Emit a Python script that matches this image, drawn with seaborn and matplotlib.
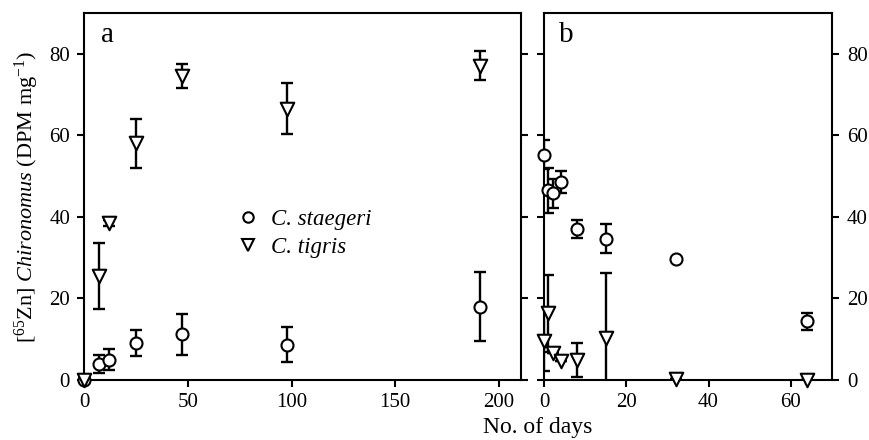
import numpy as np
import pandas as pd
import matplotlib
matplotlib.use('Agg')
import matplotlib.pyplot as plt
import seaborn as sns
from matplotlib.lines import Line2D

# ---- Data ----
species = ["C. staegeri", "C. tigris"]

# Panel a: uptake
a_days_s = [0, 7, 12, 25, 47, 98, 191]
a_mean_s = [0.0, 4.0, 5.0, 9.0, 11.2, 8.6, 18.0]
a_err_s = [0.0, 2.2, 2.5, 3.2, 5.0, 4.3, 8.4]
a_days_t = [0, 7, 12, 25, 47, 98, 191]
a_mean_t = [0.0, 25.5, 38.5, 58.0, 74.5, 66.5, 77.0]
a_err_t = [0.0, 8.0, 0.8, 6.0, 3.0, 6.3, 3.5]

# Panel b: depuration
b_days_s = [0, 1, 2, 4, 8, 15, 32, 64]
b_mean_s = [55.2, 46.5, 45.7, 48.5, 37.0, 34.6, 29.7, 14.4]
b_err_s = [3.5, 5.5, 3.5, 2.6, 2.1, 3.6, 0.0, 2.1]
b_days_t = [0, 1, 2, 4, 8, 15, 32, 64]
b_mean_t = [9.5, 16.3, 6.5, 4.7, 4.9, 10.2, 0.3, 0.0]
b_err_t = [7.4, 9.4, 0.0, 0.0, 4.2, 16.0, 0.0, 0.0]

a_xticks = [0, 50, 100, 150, 200]
b_xticks = [0, 20, 40, 60]
yticks = [0, 20, 40, 60, 80]


def frame(days_s, mean_s, err_s, days_t, mean_t, err_t):
    d1 = pd.DataFrame({"day": days_s, "val": mean_s, "err": err_s, "sp": species[0]})
    d2 = pd.DataFrame({"day": days_t, "val": mean_t, "err": err_t, "sp": species[1]})
    return pd.concat([d1, d2], ignore_index=True)


df_a = frame(a_days_s, a_mean_s, a_err_s, a_days_t, a_mean_t, a_err_t)
df_b = frame(b_days_s, b_mean_s, b_err_s, b_days_t, b_mean_t, b_err_t)

sns.set_style("ticks")
plt.rcParams['font.family'] = ['Liberation Serif', 'DejaVu Serif']
plt.rcParams['mathtext.fontset'] = 'custom'
plt.rcParams['mathtext.rm'] = 'Liberation Serif'
plt.rcParams['mathtext.it'] = 'Liberation Serif:italic'
plt.rcParams['axes.linewidth'] = 1.5
for k in ['text.color', 'axes.labelcolor', 'xtick.color', 'ytick.color', 'axes.edgecolor']:
    plt.rcParams[k] = 'black'

fig = plt.figure(figsize=(8.7, 4.4), dpi=100)
ax_a = fig.add_axes([84 / 870, 60 / 440, 437 / 870, 367.3 / 440])
ax_b = fig.add_axes([544.3 / 870, 60 / 440, 287.4 / 870, 367.3 / 440])

markers = {species[0]: "o", species[1]: "v"}
sizes = {species[0]: 75, species[1]: 95}


def draw(ax, df):
    for sp in species:
        sub = df[df.sp == sp]
        ax.errorbar(sub.day, sub.val, yerr=sub.err, fmt='none', ecolor='black',
                    elinewidth=1.7, capsize=4.5, capthick=1.7, zorder=2)
    for sp in species:
        sub = df[df.sp == sp]
        sns.scatterplot(data=sub, x="day", y="val", ax=ax, marker=markers[sp],
                        s=sizes[sp], facecolor='white', edgecolor='black',
                        linewidth=1.5, zorder=3, clip_on=False, legend=False)
    ax.set_ylim(0, 90)
    ax.set_yticks(yticks)
    ax.set_xlabel("")
    ax.set_ylabel("")
    for s in ax.spines.values():
        s.set_visible(True)
        s.set_linewidth(1.5)
        s.set_color('black')
    ax.tick_params(axis='both', direction='out', length=5, width=1.5,
                   labelsize=15, colors='black')


draw(ax_a, df_a)
draw(ax_b, df_b)

ax_a.set_xlim(0, 210.6)
ax_a.set_xticks(a_xticks)
ax_a.tick_params(axis='y', which='both', left=True, right=True, labelleft=True,
                 labelright=False, pad=5)
ax_a.tick_params(axis='x', pad=4)

ax_b.set_xlim(0, 70)
ax_b.set_xticks(b_xticks)
ax_b.tick_params(axis='y', which='both', left=True, right=True, labelleft=False,
                 labelright=True, pad=6)
ax_b.tick_params(axis='x', pad=4)

ax_a.set_ylabel(r'[$^{65}$Zn] $\mathit{Chironomus}$ (DPM mg$^{-1}$)', fontsize=16, labelpad=6)

ax_a.text(0.038, 0.94, "a", transform=ax_a.transAxes, fontsize=21, va='center', ha='left')
ax_b.text(0.05, 0.94, "b", transform=ax_b.transAxes, fontsize=21, va='center', ha='left')

handles = [Line2D([], [], linestyle='none', marker='o', markersize=7.5,
                  markerfacecolor='white', markeredgecolor='black', markeredgewidth=1.5),
           Line2D([], [], linestyle='none', marker='v', markersize=8,
                  markerfacecolor='white', markeredgecolor='black', markeredgewidth=1.5)]
ax_a.legend(handles, species, loc='center left', bbox_to_anchor=(0.322, 0.398),
            frameon=False, prop={'family': 'Liberation Serif', 'style': 'italic', 'size': 16.5},
            handlelength=1.0, handletextpad=0.5, labelspacing=0.3, borderpad=0)

fig.text(538 / 870, 1 - 427 / 440, "No. of days", ha='center', va='center', fontsize=17)

fig.savefig("out.png", dpi=100)
